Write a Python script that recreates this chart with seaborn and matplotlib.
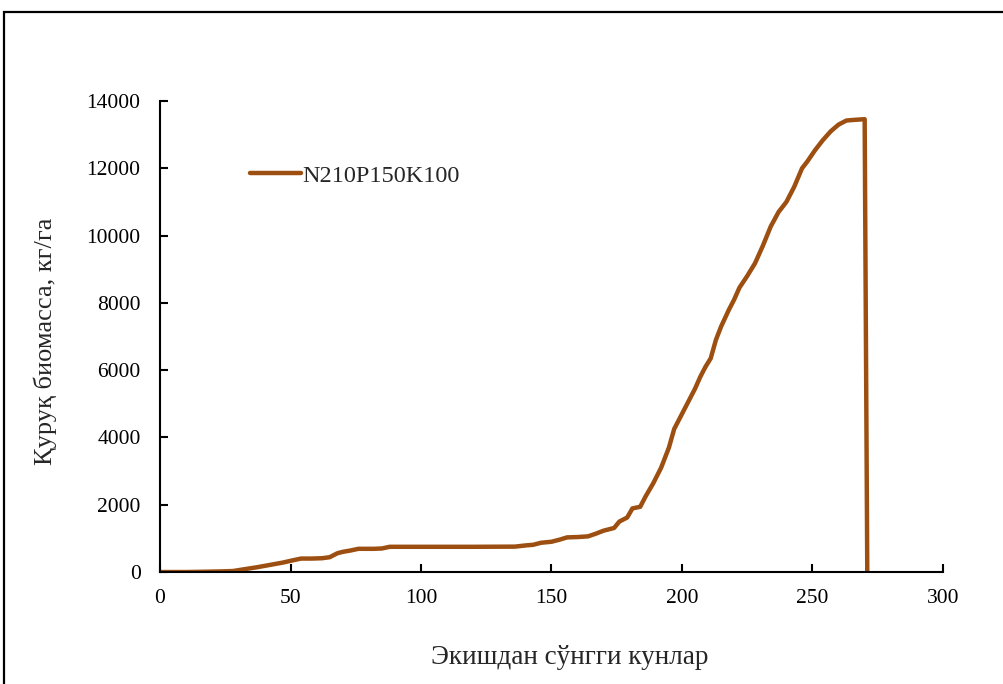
import matplotlib
matplotlib.use("Agg")
import matplotlib.pyplot as plt
from matplotlib.patches import Rectangle
import seaborn as sns
import pandas as pd

# Dry biomass accumulation after sowing
days = [0, 10, 18, 24, 28, 32, 37, 42, 47, 51, 54, 58, 62, 65, 68, 70, 73, 76, 82, 85, 88,
        100, 120, 136, 140, 143, 146, 150, 153, 156, 160, 164, 167, 170, 174, 176, 179, 181,
        184, 186, 189, 192, 195, 197, 200, 203, 205, 207, 209, 211, 213, 215, 218, 220, 222,
        225, 228, 231, 234, 237, 240, 243, 246, 248, 251, 254, 257, 260, 263, 266, 270, 271]
biomass = [0, 0, 10, 20, 30, 80, 140, 210, 280, 350, 400, 400, 410, 440, 560, 600, 640, 690, 690, 700, 750,
           750, 750, 755, 790, 810, 870, 900, 960, 1030, 1040, 1060, 1140, 1230, 1310, 1500, 1620, 1890,
           1940, 2240, 2640, 3100, 3700, 4250, 4700, 5150, 5450, 5800, 6100, 6350, 6900, 7300, 7800, 8100, 8450,
           8800, 9180, 9700, 10270, 10700, 11000, 11450, 12000, 12200, 12540, 12840, 13100, 13300, 13420, 13440, 13460, 0]
series_name = "N210P150K100"

x_ticks = [0, 50, 100, 150, 200, 250, 300]
y_ticks = [0, 2000, 4000, 6000, 8000, 10000, 12000, 14000]
x_label = "Экишдан сўнгги кунлар"
y_label = "Қуруқ биомасса, кг/га"

df = pd.DataFrame({"day": days, "biomass": biomass, "series": series_name})

sns.set_theme(style="white")
plt.rcParams["font.family"] = ["Liberation Serif", "DejaVu Serif"]

fig = plt.figure(figsize=(10.04, 6.84), dpi=100)
ax = fig.add_axes([0.1594, 0.1637, 0.7798, 0.6886])

line_color = "#9C4F10"
sns.lineplot(data=df, x="day", y="biomass", hue="series", palette=[line_color],
             linewidth=3.2, ax=ax, sort=False, estimator=None)

ax.set_xlim(0, 300)
ax.set_ylim(0, 14000)
ax.set_xticks(x_ticks)
ax.set_yticks(y_ticks)
ax.tick_params(axis="both", direction="in", length=5.5, width=1.5, labelsize=15.5,
               colors="black", bottom=True, left=True)
ax.tick_params(axis="x", pad=12)
ax.tick_params(axis="y", pad=14)
for side in ("top", "right"):
    ax.spines[side].set_visible(False)
for side in ("left", "bottom"):
    ax.spines[side].set_color("black")
    ax.spines[side].set_linewidth(1.5)

ax.set_xlabel(x_label, fontsize=19.5)
ax.set_ylabel(y_label, fontsize=19)
ax.xaxis.set_label_coords(0.523, -0.155)
ax.yaxis.set_label_coords(-0.131, 0.49)

leg = ax.legend(loc="upper left", bbox_to_anchor=(0.102, 0.885), frameon=False,
                fontsize=17.5, handlelength=2.1, handletextpad=0.05, borderaxespad=0)
for h in leg.get_lines():
    h.set_linewidth(3.2)

# Outer frame around the figure
fig.patches.append(Rectangle((4 / 1004, -0.02), 1.05, 1 - 12 / 684 + 0.02,
                             transform=fig.transFigure, fill=False,
                             edgecolor="black", linewidth=1.6))

fig.savefig("out.png", dpi=100)
